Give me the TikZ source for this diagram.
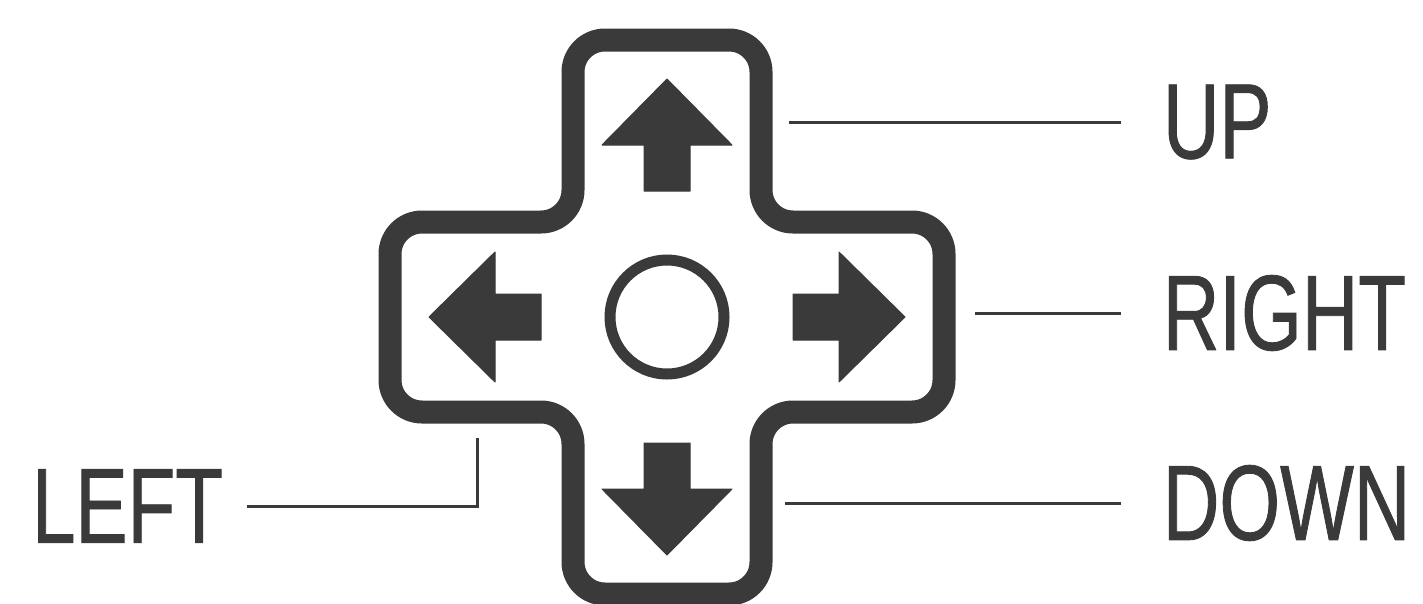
\documentclass[tikz,border=0pt]{standalone}
\usepackage{fontspec}
\setmainfont{Liberation Sans}[FakeStretch=0.73,FakeBold=0.8]
\usetikzlibrary{positioning}
\definecolor{ink}{HTML}{3a3a3a}
\tikzset{
  pad/.style={draw=ink,line width=23pt,rounded corners=32pt},
  dirarrow/.style={fill=ink,draw=ink,line width=1pt,line join=round},
  hub/.style={circle,draw=ink,line width=11pt,minimum size=114pt,inner sep=0pt},
  lbl/.style={text=ink,font=\fontsize{107}{107}\selectfont,inner sep=0pt,outer xsep=42pt},
  leader/.style={draw=ink,line width=3pt},
}
\begin{document}
\begin{tikzpicture}[x=1pt,y=-1pt]
  \path[use as bounding box,fill=white] (0,0) rectangle (1423,603);
  \begin{scope}[shift={(667,317)}]
    \draw[pad] (0,-277) -- (94,-277) -- (94,-95) -- (277,-95) -- (277,95) -- (94,95)
      -- (94,277) -- (-94,277) -- (-94,95) -- (-277,95) -- (-277,-95) -- (-94,-95)
      -- (-94,-277) -- cycle;
    \node[hub] (hub) at (0,0) {};
    \foreach \r in {0,90,180,270}
      \fill[dirarrow,rotate=\r] (0,-238) -- (65,-172) -- (23,-172) -- (23,-126)
        -- (-23,-126) -- (-23,-172) -- (-65,-172) -- cycle;
  \end{scope}
  \node[lbl,anchor=west] (up) at (1121,122) {UP};
  \node[lbl,anchor=west] (right) at (1121,313) {RIGHT};
  \node[lbl,anchor=west] (down) at (1121,503) {DOWN};
  \node[lbl,anchor=east,outer xsep=24pt] (left) at (247,506) {LEFT};
  \coordinate (upfrom) at (789,122);
  \coordinate (rightfrom) at (975,313);
  \coordinate (downfrom) at (785,503);
  \coordinate (leftbend) at (477,506);
  \coordinate (leftfrom) at (477,438);
  \draw[leader] (upfrom) -- (up.west);
  \draw[leader] (rightfrom) -- (right.west);
  \draw[leader] (downfrom) -- (down.west);
  \draw[leader] (left.east) -- (leftbend) -- (leftfrom);
\end{tikzpicture}
\end{document}
